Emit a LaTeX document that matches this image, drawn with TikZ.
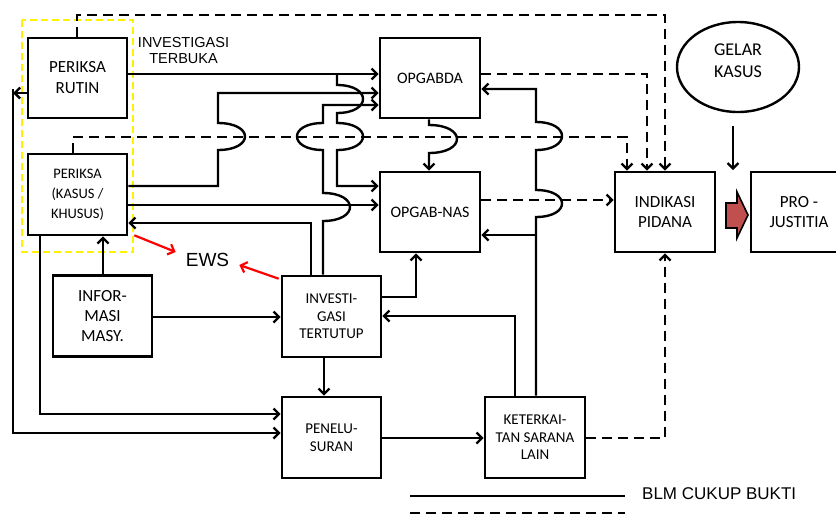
\documentclass[tikz,border=0pt]{standalone}
\usepackage{fontspec}
\setmainfont{Carlito}
\newfontfamily\arialf{Liberation Sans}
\usetikzlibrary{arrows.meta,shapes.geometric}
\definecolor{fatred}{HTML}{C0504D}
\begin{document}
\begin{tikzpicture}[x=1pt,y=-1pt,line width=2.4pt,
  >={Straight Barb[length=5.5pt,width=11pt]},
  box/.style={draw,line width=2.6pt,inner sep=0pt,align=center},
  dsh/.style={dash pattern=on 10pt off 6pt},
  ewsarrow/.style={draw=red,line width=2.2pt,->},
  freetxt/.style={inner sep=0pt,align=center,font=\arialf}]
\useasboundingbox (0,0) rectangle (836,515);
\fill[white] (0,0) rectangle (836,515);

% boxes
\node[box,minimum width=99pt,minimum height=80pt,font=\fontsize{17}{21}\selectfont] (rutin) at (77.5,78) {PERIKSA\\RUTIN};
\node[box,minimum width=99pt,minimum height=81pt,font=\fontsize{14.5}{20}\selectfont] (kasus) at (77.5,194.5) {PERIKSA\\(KASUS /\\KHUSUS)};
\node[box,minimum width=100pt,minimum height=80pt,font=\fontsize{16}{20}\selectfont] (opgabda) at (430,78) {OPGABDA};
\node[box,minimum width=100pt,minimum height=80pt,font=\fontsize{16}{20}\selectfont] (opgabnas) at (430,212) {OPGAB-NAS};
\node[box,minimum width=100pt,minimum height=80pt,font=\fontsize{17}{20}\selectfont] (indikasi) at (665,212) {INDIKASI\\PIDANA};
\node[box,minimum width=96pt,minimum height=80pt,font=\fontsize{17}{20}\selectfont] (pro) at (799,212) {PRO -\\JUSTITIA};
\node[draw,ellipse,line width=2.4pt,minimum width=122pt,minimum height=90pt] (gelar) at (738,67) {};
\node[inner sep=0pt,align=center,font=\fontsize{18}{22}\selectfont] (gelartxt) at (738,61) {GELAR\\KASUS};
\node[box,minimum width=99pt,minimum height=81pt,font=\fontsize{17}{20}\selectfont] (infor) at (102.5,316) {INFOR-\\MASI\\MASY.};
\node[box,minimum width=99pt,minimum height=81pt,font=\fontsize{15}{17.5}\selectfont] (invest) at (331.5,316.5) {INVESTI-\\GASI\\TERTUTUP};
\node[box,minimum width=99pt,minimum height=81pt,font=\fontsize{15}{18}\selectfont] (penel) at (331.5,437.5) {PENELU-\\SURAN};
\node[box,minimum width=100pt,minimum height=81pt,font=\fontsize{15}{17.5}\selectfont] (keter) at (535,437.5) {KETERKAI-\\TAN SARANA\\LAIN};

% free texts
\node[freetxt,font=\arialf\fontsize{14.5}{15.5}\selectfont] (terbuka) at (183.5,50.5) {INVESTIGASI\\TERBUKA};
\node[freetxt,font=\arialf\fontsize{19}{22}\selectfont] (ews) at (207.5,260) {EWS};
\node[freetxt,anchor=west,font=\arialf\fontsize{17}{20}\selectfont] (legtxt) at (641,494) {BLM CUKUP BUKTI};

% yellow dashed group
\draw[draw=yellow,line width=2pt,dash pattern=on 7pt off 4pt] (22,20) rectangle (133,252);

% solid connectors
\draw[->] (rutin.east |- 0,74) -- (opgabda.west |- 0,74);
\coordinate (j1) at (337,74);
\draw[->] (j1) -- (337,85) .. controls (371.7,85) and (371.7,113) .. (337,113)
  -- (337,123) .. controls (371.7,123) and (371.7,150) .. (337,150)
  -- (337,186) -- (opgabnas.west |- 0,186);
\draw[->] (kasus.east |- 0,186) -- (218,186) -- (218,150)
  .. controls (254,150) and (254,123) .. (218,123) -- (218,93) -- (opgabda.west |- 0,93);
\draw[->] (kasus.east |- 0,205) -- (opgabnas.west |- 0,205);
\draw[->] (invest.north -| 323,0) -- (323,221) .. controls (359,221) and (359,193) .. (323,193)
  -- (323,150) .. controls (288.3,150) and (288.3,123) .. (323,123)
  -- (323,105) -- (opgabda.west |- 0,105);
\draw[->] (invest.north -| 311,0) -- (311,223) -- (kasus.east |- 0,223);
\draw[->] (invest.east |- 0,297) -- (416,297) -- (opgabnas.south -| 416,0);
\draw[->] (keter.north -| 515,0) -- (515,316) -- (invest.east |- 0,316);
\draw[->] (keter.north -| 536,0) -- (536,217) .. controls (570.7,217) and (570.7,190) .. (536,190)
  -- (536,150) .. controls (570.7,150) and (570.7,122) .. (536,122)
  -- (536,89) -- (opgabda.east |- 0,89);
\coordinate (j2) at (536,235);
\draw[->] (j2) -- (opgabnas.east |- 0,235);
\draw[->] (opgabda.south -| 429,0) -- (429,125) .. controls (466.3,125) and (466.3,153) .. (429,153)
  -- (opgabnas.north -| 429,0);
\draw[->] (infor.north -| 103,0) -- (kasus.south -| 103,0);
\draw[->] (infor.east |- 0,317) -- (invest.west |- 0,317);
\draw[->] (kasus.south -| 40,0) -- (40,414) -- (penel.west |- 0,414);
\coordinate (c1) at (13,93);
\draw[->] (rutin.west |- 0,93) -- (c1);
\draw[->] (13,89) -- (13,433) -- (penel.west |- 0,433);
\draw[->] (invest.south -| 324,0) -- (penel.north -| 324,0);
\draw[->] (penel.east |- 0,438) -- (keter.west |- 0,438);
\draw[->] ([shift={(-5,13)}]gelar.south) -- ++(0,44);

% dashed connectors
\draw[dsh,->] (rutin.north -| 77,0) -- (77,15) -- (665,15) -- (indikasi.north -| 665,0);
\draw[dsh,->] (opgabda.east |- 0,74) -- (647,74) -- (indikasi.north -| 647,0);
\draw[dsh,->] (kasus.north -| 73,0) -- (73,137) -- (627,137) -- (indikasi.north -| 627,0);
\draw[dsh,->] (opgabnas.east |- 0,200) -- (indikasi.west |- 0,200);
\draw[dsh,->] (keter.east |- 0,438) -- (665,438) -- (indikasi.south -| 665,0);

% red EWS arrows
\draw[ewsarrow] ([shift={(6,-1)}]kasus.south east) -- ([shift={(-9,-8)}]ews.west);
\draw[ewsarrow] ([shift={(-2,4)}]invest.north west) -- ([shift={(9,5)}]ews.east);

% fat arrow
\draw[fill=fatred,line width=1.6pt,line join=miter]
  (726,203) -- (737,203) -- (737,192) -- (748,215) -- (737,238) -- (737,228) -- (726,228) -- cycle;

% legend
\coordinate (l1a) at (410,496); \coordinate (l1b) at (625,496);
\coordinate (l2a) at (410,513); \coordinate (l2b) at (625,513);
\draw[line width=2pt] (l1a) -- (l1b);
\draw[dsh] (l2a) -- (l2b);
\end{tikzpicture}
\end{document}
